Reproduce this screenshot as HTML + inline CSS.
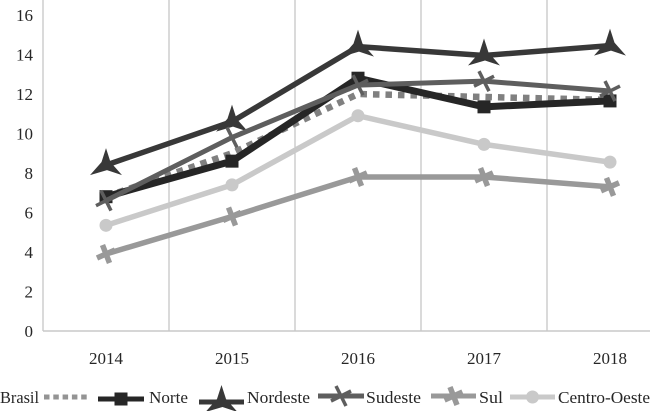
<!DOCTYPE html>
<html><head><meta charset="utf-8"><style>
html,body{margin:0;padding:0;background:#fff}
svg{display:block;font-family:"Liberation Serif",serif;fill:#262626}
text{font-size:17px}
</style></head><body>
<svg id="chart" width="650" height="411" viewBox="0 0 650 411" xmlns="http://www.w3.org/2000/svg"></svg>
<script>
const categories = ['2014','2015','2016','2017','2018'];
const yTicks = [0,2,4,6,8,10,12,14,16];
const brasil = [6.8,9.0,12.0,11.85,11.7];
const norte = [6.8,8.6,12.8,11.35,11.65];
const nordeste = [8.4,10.6,14.4,13.95,14.45];
const sudeste = [6.6,9.8,12.45,12.65,12.15];
const sul = [3.9,5.8,7.8,7.8,7.3];
const centroOeste = [5.35,7.4,10.9,9.45,8.55];
const seriesNames = ['Brasil','Norte','Nordeste','Sudeste','Sul','Centro-Oeste'];

const svg = document.getElementById('chart');
const NS = 'http://www.w3.org/2000/svg';
const yAxis = v => 331 - v * 19.75;
const xAxis = i => 106 + i * 126;
function make(tag, attrs, parent) {
  const el = document.createElementNS(NS, tag);
  for (const k in attrs) el.setAttribute(k, attrs[k]);
  (parent || svg).appendChild(el);
  return el;
}
const styles = [
  {color:'#808080', width:6.5, dash:'6.5 6', legendDash:'5.5 3.8', legendColor:'#949494', marker:null},
  {color:'#262626', width:7, marker:'square'},
  {color:'#383838', width:5.5, marker:'star'},
  {color:'#5e5e5e', width:5, marker:'x'},
  {color:'#999999', width:5.5, marker:'plus'},
  {color:'#c9c9c9', width:5.5, marker:'dot'}
];
function drawMarker(kind, cx, cy, color, parent) {
  if (kind === 'square') {
    make('rect', {x:cx-6.5, y:cy-6.5, width:13, height:13, fill:color}, parent);
  } else if (kind === 'star') {
    const p = [[0,-17],[4.5,-3],[16,10],[1,5],[-16,10],[-4.5,-3]];
    make('polygon', {points:p.map(q => (cx+q[0])+','+(cy+q[1])).join(' '), fill:color}, parent);
  } else if (kind === 'x') {
    make('path', {d:`M${cx-10} ${cy+5}L${cx+10} ${cy-5}M${cx-5} ${cy-10}L${cx+5} ${cy+10}`, stroke:color, 'stroke-width':3.5, fill:'none'}, parent);
  } else if (kind === 'plus') {
    make('path', {d:`M${cx-9} ${cy+4}L${cx+9} ${cy-4}M${cx-3.5} ${cy-9}L${cx+3.5} ${cy+9}`, stroke:color, 'stroke-width':5.5, fill:'none'}, parent);
  } else if (kind === 'dot') {
    make('circle', {cx:cx, cy:cy, r:6.5, fill:color}, parent);
  }
}

yTicks.forEach(v => {
  const t = make('text', {x:33, y:yAxis(v)+6, 'text-anchor':'end'});
  t.textContent = v;
  
  
});
categories.forEach((c, i) => {
  const t = make('text', {x:xAxis(i), y:364, 'text-anchor':'middle'});
  t.textContent = c;
  
  
  const g = make('line', {x1:xAxis(i)-63, x2:xAxis(i)-63, y1:0, y2:331, stroke:'#b5b5b5', 'stroke-width':1});
  
  
});
const axis = make('line', {x1:43, x2:650, y1:331, y2:331, stroke:'#c8c8c8', 'stroke-width':1.5});



[brasil, norte, nordeste, sudeste, sul, centroOeste].forEach((vals, s) => {
  const st = styles[s];
  const g = make('g', {});
  
  
  make('polyline', {
    points: vals.map((v, i) => xAxis(i) + ',' + yAxis(v)).join(' '),
    fill:'none', stroke:st.color, 'stroke-width':st.width,
    'stroke-dasharray':st.dash || 'none', 'stroke-linejoin':'round'
  }, g);
  vals.forEach((v, i) => drawMarker(st.marker, xAxis(i), yAxis(v), st.color, g));
});

const legendLine = [[44,87],[98,144],[199,244],[318,364],[431,476],[510,555]];
const legendLineY = [397,399,402,396,396,397];
const legendText = [[0,39],[149,39],[247,63],[366,55],[479,24],[558,92]];
seriesNames.forEach((n, s) => {
  const st = styles[s];
  const g = make('g', {});
  
  
  const t = make('text', {x:legendText[s][0], y:403, textLength:legendText[s][1], lengthAdjust:'spacingAndGlyphs'}, g);
  t.textContent = n;
  const a = legendLine[s][0], b = legendLine[s][1], y = legendLineY[s];
  const c = st.legendColor || st.color;
  make('line', {x1:a, x2:b, y1:y, y2:y, stroke:c, 'stroke-width':5, 'stroke-dasharray':st.legendDash || 'none'}, g);
  drawMarker(st.marker, (a+b)/2, y, st.color, g);
});
</script>
</body></html>
